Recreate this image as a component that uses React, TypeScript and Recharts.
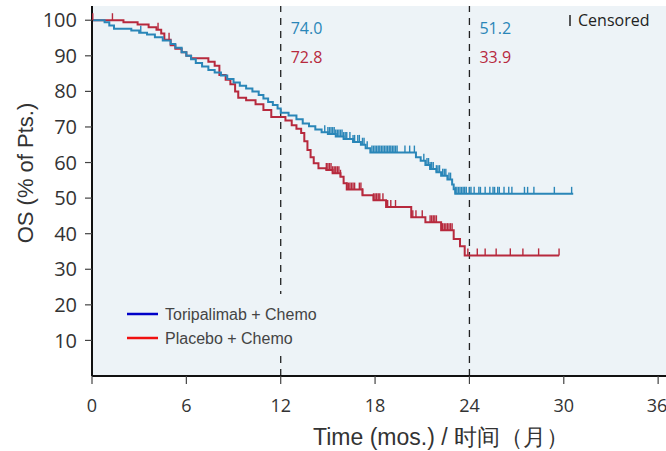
import React from 'react';
import { ComposedChart, Line, Scatter, XAxis, YAxis, ReferenceLine, CartesianGrid } from 'recharts';

// Kaplan-Meier step points [time (months), OS %]
const toriSteps: [number, number][] = [
  [0, 100], [0.8, 99.4], [1.1, 98.5], [1.4, 97.6], [2.5, 97.1], [3.0, 96.5], [3.5, 96.0], [4.0, 95.2],
  [4.5, 94.3], [5.0, 93.3], [5.3, 92.3], [5.7, 91.0], [6.0, 90.0], [6.3, 89.0], [6.6, 88.0], [7.0, 87.0],
  [7.4, 86.0], [7.8, 85.3], [8.2, 84.5], [8.6, 83.5], [9.0, 82.5], [9.4, 81.6], [9.8, 80.8], [10.2, 80.0],
  [10.6, 79.0], [10.9, 78.0], [11.2, 77.0], [11.5, 76.2], [11.8, 75.2], [12.0, 74.0], [12.5, 73.2],
  [13.0, 72.2], [13.4, 71.0], [13.8, 70.2], [14.2, 69.3], [14.6, 68.5], [15.0, 68.0], [15.5, 67.3],
  [16.0, 66.6], [16.6, 65.8], [17.1, 65.0], [17.4, 64.0], [17.7, 62.8], [20.6, 61.5], [20.9, 60.5],
  [21.2, 59.3], [21.5, 58.2], [21.9, 57.3], [22.2, 56.3], [22.6, 55.2], [22.9, 53.8], [23.0, 52.5],
  [23.1, 51.2], [30.6, 51.2],
];
const placeboSteps: [number, number][] = [
  [0, 100], [2.0, 99.4], [2.9, 98.8], [3.6, 98.0], [4.1, 97.3], [4.4, 96.3], [4.6, 94.5], [5.0, 93.0],
  [5.3, 92.0], [5.7, 91.0], [6.0, 90.0], [6.3, 89.3], [7.4, 88.3], [7.8, 87.2], [8.1, 84.6], [8.5, 83.3],
  [8.8, 82.0], [9.1, 80.0], [9.3, 78.2], [9.8, 77.5], [10.4, 76.4], [10.9, 74.8], [11.4, 72.8],
  [12.3, 71.8], [12.7, 70.5], [13.0, 69.5], [13.3, 68.3], [13.5, 66.0], [13.7, 63.5], [13.9, 61.5],
  [14.1, 59.8], [14.4, 58.4], [14.9, 57.9], [15.3, 57.0], [15.8, 56.0], [16.0, 54.2], [16.2, 52.4],
  [17.2, 50.8], [17.9, 49.4], [18.7, 47.5], [20.3, 44.6], [21.2, 43.2], [22.2, 41.0], [23.0, 38.5],
  [23.4, 36.5], [23.7, 33.9], [29.7, 33.9],
];
// censor times (months)
const toriCensor = [
  3.1, 14.8, 15.0, 15.1, 15.2, 15.3, 15.4, 15.5, 15.6, 15.7, 15.8, 15.9, 16.0, 16.1, 16.2, 16.4, 16.6,
  16.7, 16.9, 17.0, 17.2, 17.3, 17.5, 17.8, 17.9, 18.0, 18.1, 18.2, 18.3, 18.4, 18.5, 18.6, 18.7, 18.8,
  18.9, 19.0, 19.1, 19.2, 19.3, 19.4, 19.9, 20.2, 20.5, 21.1, 21.3, 21.4, 21.5, 21.6, 21.7, 21.9, 22.0,
  22.1, 22.3, 22.4, 22.5, 22.7, 22.8, 23.1, 23.2, 23.3, 23.4, 23.5, 23.6, 23.7, 23.8, 24.0, 24.1, 24.3,
  24.6, 24.7, 25.0, 25.3, 25.5, 25.6, 25.8, 25.9, 26.2, 26.5, 26.7, 27.5, 27.7, 28.1, 29.4, 30.5,
];
const placeboCensor = [
  0.05, 1.3, 4.2, 4.9, 14.9, 15.0, 15.1, 15.2, 15.3, 15.4, 15.5, 15.6, 15.7, 15.8, 16.2, 16.3, 16.4,
  16.5, 16.6, 16.7, 17.0, 17.1, 17.2, 17.9, 18.0, 18.1, 18.2, 18.3, 18.5, 18.8, 19.0, 19.3, 20.4, 20.6,
  21.0, 21.5, 21.6, 21.7, 21.8, 21.9, 22.3, 22.4, 22.5, 22.6, 22.7, 22.8, 22.9, 23.9, 24.5, 25.0, 25.7,
  26.6, 27.4, 28.4, 29.7,
];
const xTicks = [0, 6, 12, 18, 24, 30, 36];
const yTicks = [10, 20, 30, 40, 50, 60, 70, 80, 90, 100];
const landmarkTimes = [12, 24];
const toriLandmark = ['74.0', '51.2'];
const placeboLandmark = ['72.8', '33.9'];
const legendLabels = ['Toripalimab + Chemo', 'Placebo + Chemo'];

const BLUE = '#2a86b8';
const RED = '#b7293d';
const BG = '#edf3f7';
const NUM_FONT = '"Open Sans", "Noto Sans", sans-serif';
const TXT_FONT = '"Liberation Sans", Arial, sans-serif';

const toRows = (steps: [number, number][]) => steps.map(([t, s]) => ({ t, s }));
const valueAt = (steps: [number, number][], t: number) => {
  let v = steps[0][1];
  for (const [st, sv] of steps) if (st <= t) v = sv;
  return v;
};
const censorRows = (steps: [number, number][], times: number[]) => times.map((t) => ({ t, s: valueAt(steps, t) }));

const toriData = toRows(toriSteps);
const placeboData = toRows(placeboSteps);
const toriCens = censorRows(toriSteps, toriCensor);
const placeboCens = censorRows(placeboSteps, placeboCensor);

const tick = (color: string) => (props: any) => {
  const { cx, cy } = props;
  return <line x1={cx} x2={cx} y1={cy} y2={cy - 7} stroke={color} strokeWidth={1.4} />;
};

const landmarkLabel = (i: number) => (props: any) => {
  const vb = props.viewBox || {};
  const x = (vb.x ?? 0) + 10;
  return (
    <g fontFamily={NUM_FONT} fontSize={16}>
      <text x={x} y={34} fill={BLUE}>{toriLandmark[i]}</text>
      <text x={x} y={63} fill={RED}>{placeboLandmark[i]}</text>
    </g>
  );
};

export default function App() {
  return (
    <div style={{ position: 'absolute', left: 0, top: 0, width: 666, height: 451, background: '#fff' }}>
      <ComposedChart width={666} height={451} margin={{ top: 6, right: 0, bottom: 0, left: 0 }}>
        <CartesianGrid fill={BG} horizontal={false} vertical={false} stroke="none" />
        <XAxis
          type="number"
          dataKey="t"
          domain={[0, 36.5]}
          ticks={xTicks}
          allowDataOverflow
          height={75}
          tickSize={8}
          tickMargin={15}
          axisLine={{ stroke: '#111', strokeWidth: 2 }}
          tickLine={{ stroke: '#444', strokeWidth: 1.2 }}
          tick={{ fill: '#333', fontSize: 18, fontFamily: NUM_FONT }}
        />
        <YAxis
          type="number"
          dataKey="s"
          domain={[0, 104]}
          ticks={yTicks}
          allowDataOverflow
          width={92}
          tickSize={7}
          tickMargin={8}
          axisLine={{ stroke: '#111', strokeWidth: 2 }}
          tickLine={{ stroke: '#444', strokeWidth: 1.2 }}
          tick={{ fill: '#333', fontSize: 20, fontFamily: NUM_FONT }}
        />
        {landmarkTimes.map((t, i) => (
          <ReferenceLine
            key={t}
            x={t}
            stroke="#222"
            strokeWidth={1.3}
            strokeDasharray="7 6"
            label={{ content: landmarkLabel(i) } as any}
          />
        ))}
        <Line
          data={placeboData}
          dataKey="s"
          type="stepAfter"
          stroke={RED}
          strokeWidth={2}
          dot={false}
          isAnimationActive={false}
        />
        <Line
          data={toriData}
          dataKey="s"
          type="stepAfter"
          stroke={BLUE}
          strokeWidth={2}
          dot={false}
          isAnimationActive={false}
        />
        <Scatter data={placeboCens} dataKey="s" shape={tick(RED)} isAnimationActive={false} />
        <Scatter data={toriCens} dataKey="s" shape={tick(BLUE)} isAnimationActive={false} />
      </ComposedChart>
      <svg
        width={666}
        height={451}
        style={{ position: 'absolute', left: 0, top: 0, pointerEvents: 'none' }}
      >
        <text
          x={25}
          y={173}
          transform="rotate(-90 25 173)"
          textAnchor="middle"
          dominantBaseline="central"
          fontFamily={TXT_FONT}
          fontSize={22}
          fill="#333"
        >
          OS (% of Pts.)
        </text>
        <text x={313} y={445} fontFamily={TXT_FONT} fontSize={23} fill="#333">
          Time (mos.) / 时间（月）
        </text>
        <rect x={118} y={294} width={214} height={62} fill={BG} />
        <line x1={127} x2={158} y1={314} y2={314} stroke="#0000c8" strokeWidth={2.5} />
        <text x={165} y={320} fontFamily={TXT_FONT} fontSize={16} fill="#444">{legendLabels[0]}</text>
        <line x1={127} x2={158} y1={338} y2={338} stroke="#f01010" strokeWidth={2.5} />
        <text x={165} y={344} fontFamily={TXT_FONT} fontSize={16} fill="#444">{legendLabels[1]}</text>
        <line x1={570} x2={570} y1={15} y2={26} stroke="#222" strokeWidth={1.5} />
        <text x={578} y={26} fontFamily={NUM_FONT} fontSize={16} fill="#222">Censored</text>
      </svg>
    </div>
  );
}
